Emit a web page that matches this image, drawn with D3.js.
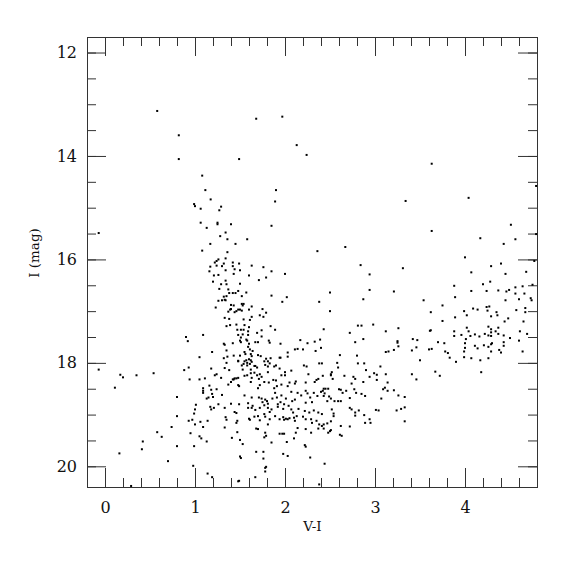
<!DOCTYPE html>
<html lang="en">
<head>
<meta charset="utf-8">
<script src="https://d3js.org/d3.v7.min.js"></script>
<style>
  body { margin: 0; background: #fff; }
  text { font-family: "DejaVu Serif", serif; fill: #111; }
</style>
</head>
<body>
<div id="chart"></div>
<script>

// [V-I, I] pairs, grouped by region of the diagram
var brightStars = [[0.58,13.13],[0.82,13.60],[0.82,14.06],[1.08,14.38],[1.49,14.06],[1.68,13.28],[1.97,13.24],
  [2.13,13.79],[2.24,13.98],[3.63,14.15],[4.79,14.58]];

var upperGiants = [[1.115,14.66],[1.174,14.84],[0.99,14.93],[1.00,14.97],[1.063,15.02],[1.29,14.98],[1.27,15.05],
  [1.063,15.29],[1.25,15.29],[1.25,15.32],[1.13,15.39],[1.40,15.32],[1.34,15.48],[1.28,15.55],[1.36,15.61],[1.45,15.70],
  [1.17,15.70],[1.08,15.83],[1.36,15.86],[-0.07,15.49],[1.26,16.00],[1.24,16.03],[1.34,15.98],[1.22,16.06],[1.17,16.14],
  [1.24,16.12],[1.30,16.13],[1.32,16.08],[1.42,16.06],[1.49,16.08],[1.42,16.13],[1.16,16.23],[1.34,16.21],[1.44,16.19],
  [1.43,16.28],[1.21,16.31],[1.26,16.30],[1.20,16.43],[1.34,16.41],[1.29,16.48],[1.35,16.48],[1.27,16.57],[1.37,16.58],
  [1.38,16.65],[1.42,16.65],[1.45,16.65],[1.48,16.61],[1.35,16.71],[1.32,16.72],[1.34,16.79],[1.26,16.80],[1.30,16.79],
  [1.33,16.78],[1.40,16.88],[1.43,16.89],[1.23,16.93],[1.39,16.97],[1.40,16.96],[1.37,17.01],[1.44,17.02],[1.46,17.00],
  [1.48,16.97],[1.33,17.13],[1.38,17.15],[1.35,17.29],[1.39,17.27],[1.46,17.26],[1.47,17.36],[1.48,17.46],[0.90,17.50],
  [0.92,17.58],[1.09,17.46],[1.32,17.63],[1.42,17.62]];

var giantField = [[1.90,14.66],[1.89,14.88],[1.85,15.35],[1.58,15.61],[2.36,15.84],[2.67,15.76],[1.63,16.12],[1.76,16.15],
  [1.85,16.23],[1.50,16.21],[1.60,16.31],[2.00,16.28],[1.71,16.40],[1.79,16.35],[2.84,16.11],[2.94,16.29],[1.50,16.47],
  [1.57,16.64],[2.50,16.64],[1.52,16.71],[2.94,16.59],[3.21,16.62],[1.85,16.70],[2.02,16.73],[1.97,16.82],[2.38,16.82],
  [2.87,16.77],[1.52,16.86],[1.54,16.86],[1.53,16.89],[1.63,16.91],[1.50,16.97],[1.52,16.99],[1.60,16.97],[1.75,16.96],
  [1.79,17.03],[1.72,17.08],[1.76,17.11],[2.50,17.00],[1.63,17.11],[1.61,17.17],[1.54,17.16],[1.84,17.29],[1.89,17.36],
  [2.43,17.35],[2.81,17.28],[2.85,17.28],[2.98,17.26],[3.12,17.39],[2.72,17.42],[2.87,17.54],[2.78,17.60],[2.39,17.55],
  [2.33,17.59],[2.17,17.56],[2.25,17.62],[1.95,17.63],[1.51,17.36],[1.55,17.27],[1.60,17.31],[1.54,17.36],[1.59,17.39],
  [1.69,17.42],[1.74,17.37],[1.53,17.45],[1.59,17.46],[1.74,17.49],[1.51,17.51],[1.57,17.55],[1.58,17.57],[1.50,17.57],
  [1.67,17.60],[1.70,17.60],[1.82,17.57],[1.83,17.61],[1.60,17.63],[1.51,17.60]];

var redGiants = [[3.34,14.87],[4.04,14.81],[3.63,15.45],[4.51,15.33],[4.17,15.59],[4.56,15.61],[4.43,15.70],[4.79,15.51],
  [4.00,15.96],[3.31,16.17],[4.29,16.13],[4.40,16.08],[4.77,16.03],[4.07,16.25],[4.45,16.28],[4.68,16.24],[4.28,16.43],
  [4.20,16.48],[3.88,16.51],[4.75,16.49],[4.64,16.52],[4.07,16.61],[4.24,16.61],[4.37,16.60],[4.46,16.62],[4.49,16.59],
  [4.56,16.54],[4.56,16.66],[4.66,16.66],[3.89,16.73],[3.54,16.79],[4.45,16.79],[4.60,16.77],[4.73,16.75],[4.74,16.79],
  [3.75,16.89],[4.09,16.95],[4.14,16.97],[3.99,17.00],[4.24,16.92],[4.27,16.91],[4.25,16.99],[3.62,17.02],[4.02,17.08],
  [4.29,17.10],[4.35,17.02],[4.36,17.08],[4.57,16.98],[4.67,16.94],[4.67,17.02],[3.75,17.19],[3.89,17.12],[4.44,17.20],
  [4.48,17.14],[4.65,17.20],[3.26,17.33],[3.61,17.38],[3.62,17.37],[3.88,17.39],[3.88,17.48],[4.02,17.32],[4.04,17.39],
  [3.96,17.46],[4.06,17.48],[4.11,17.45],[4.16,17.49],[4.01,17.54],[4.00,17.62],[4.22,17.44],[4.26,17.30],[4.29,17.35],
  [4.29,17.41],[4.26,17.47],[4.29,17.48],[4.34,17.39],[4.37,17.32],[4.37,17.44],[4.43,17.47],[4.50,17.52],[4.43,17.60],
  [4.30,17.62],[4.61,17.39],[4.69,17.44],[4.60,17.57],[3.25,17.58],[3.25,17.61],[3.42,17.54],[3.47,17.56],[3.70,17.60],
  [3.77,17.62]];

var redTail = [[3.26,17.68],[3.21,17.75],[3.46,17.70],[3.41,17.76],[3.50,17.95],[3.60,17.74],[3.63,17.73],[3.78,17.78],
  [3.81,17.81],[3.83,17.90],[3.90,17.98],[4.00,17.71],[3.99,17.78],[3.99,17.89],[4.07,17.91],[4.11,17.67],[4.14,17.72],
  [4.17,17.95],[4.21,17.66],[4.26,17.69],[4.26,17.91],[4.29,17.78],[4.29,17.64],[4.38,17.75],[4.40,17.80],[4.43,17.67],
  [4.64,17.78],[3.41,18.22],[3.46,18.32],[3.67,18.17],[3.72,18.25],[4.18,18.18],[3.21,18.53],[3.26,18.63],[3.33,18.66],
  [3.24,18.92],[3.29,18.89],[3.33,18.86],[3.33,19.13]];

var blueSide = [[1.33,17.65],[1.35,17.76],[1.19,17.79],[1.43,17.86],[1.05,17.89],[1.32,17.91],[1.36,17.88],[1.48,17.97],
  [1.35,18.00],[-0.07,18.13],[0.93,18.09],[0.88,18.14],[1.18,18.11],[1.33,18.10],[1.38,18.14],[0.17,18.23],[0.20,18.28],
  [0.35,18.24],[0.54,18.20],[0.94,18.32],[1.05,18.32],[1.11,18.30],[1.22,18.24],[1.24,18.22],[1.29,18.29],[1.42,18.32],
  [1.43,18.32],[1.44,18.30],[1.46,18.30],[1.40,18.37],[1.37,18.42],[1.49,18.45],[1.16,18.44],[0.11,18.48],[1.09,18.49],
  [1.09,18.54],[1.09,18.58],[1.18,18.52],[1.24,18.51],[1.19,18.60],[1.30,18.62],[1.15,18.67],[1.13,18.69],[1.20,18.66],
  [0.80,18.66],[1.01,18.81],[1.00,18.90],[0.99,18.98],[1.17,18.85],[1.18,18.90],[1.21,18.87],[1.26,18.80],[1.33,18.87],
  [1.40,18.79],[1.44,18.95],[1.46,18.97],[1.49,18.80],[1.34,19.05],[1.35,19.10],[0.80,19.03],[0.93,19.12],[0.97,19.10],
  [1.00,19.19],[1.06,19.14],[1.14,19.12],[1.09,19.24],[1.47,19.12],[1.46,19.16],[1.33,19.25],[0.74,19.24],[0.95,19.36],
  [0.58,19.34],[0.63,19.43],[0.42,19.52],[0.41,19.67],[1.05,19.42],[1.07,19.46],[1.13,19.52],[1.41,19.45],[0.80,19.61],
  [0.99,19.61],[0.16,19.75],[0.70,19.90],[0.98,19.99],[1.14,20.14],[1.19,20.21],[1.48,20.29],[0.29,20.38],[1.47,19.34]];

var turnoffUpper = [[1.59,17.69],[1.61,17.74],[1.55,17.79],[1.56,17.83],[1.62,17.83],[1.64,17.77],[1.63,17.87],[1.50,17.86],
  [1.70,17.85],[1.73,17.87],[1.79,17.92],[1.81,17.97],[1.84,17.91],[1.94,17.90],[1.95,17.90],[2.03,17.80],[2.03,17.88],
  [2.11,17.74],[2.14,17.73],[2.20,17.74],[2.34,17.77],[2.40,17.71],[2.61,17.85],[2.58,18.00],[2.80,17.86],[2.81,18.01],
  [2.88,18.01],[3.12,17.79],[3.15,17.78],[3.06,18.07],
  [1.57,17.95],[1.60,17.93],[1.62,17.95],[1.55,17.97],[1.58,18.00],[1.63,17.98],[1.61,18.02],[1.58,18.05],[1.54,18.02],
  [1.66,18.06],[1.67,18.06],[1.69,18.09],[1.77,17.97],[1.78,18.04],[1.81,18.07],[1.83,18.01],[1.88,18.07],[1.90,18.05],
  [1.94,18.11],[1.81,18.18],[1.52,18.05],[1.53,18.13],[1.48,17.96],[1.62,18.13],[1.62,18.20],[1.66,18.19],[1.69,18.24],
  [1.72,18.22],[2.07,18.15],[2.21,18.05],[2.24,18.07],[2.38,18.01],[2.41,18.01],[2.26,18.22],[2.59,18.09],[2.52,18.18],
  [2.51,18.22],[2.90,18.14],[2.66,18.25],[2.76,18.27],[2.78,18.31],[2.99,18.20],[3.02,18.23],[3.12,18.22],
  [1.48,18.29],[1.55,18.25],[1.58,18.24],[1.63,18.29],[1.62,18.37],[1.71,18.31],[1.74,18.27],[1.77,18.37],[1.82,18.38],
  [1.87,18.33],[1.90,18.34],[1.96,18.42],[2.00,18.18],[2.00,18.24],[1.96,18.24],[2.05,18.38],[2.11,18.40],[2.12,18.36],
  [2.03,18.45],[1.91,18.45],[1.88,18.49],[1.72,18.43],[1.70,18.49],[1.48,18.43],[2.23,18.38],[2.35,18.33],[2.37,18.31],
  [2.33,18.37],[2.53,18.31],[2.51,18.24],[2.42,18.25],[2.42,18.54],[2.74,18.40],[2.87,18.37],[2.94,18.27],[3.14,18.38],
  [3.11,18.48],[3.09,18.51],[3.02,18.33],[3.14,18.54]];

var turnoffLower = [[1.55,18.63],[1.63,18.67],[1.71,18.67],[1.74,18.69],[1.78,18.71],[1.80,18.74],[1.81,18.79],[1.86,18.69],
  [1.89,18.58],[1.91,18.67],[1.96,18.63],[2.01,18.69],[2.07,18.56],[2.08,18.74],[2.11,18.71],[2.14,18.58],[2.18,18.63],
  [2.23,18.54],[2.25,18.59],[2.28,18.67],[2.32,18.58],[2.36,18.64],[2.40,18.56],[2.43,18.50],[2.45,18.50],[2.48,18.50],
  [2.44,18.59],[2.43,18.64],[2.49,18.65],[2.47,18.74],[2.51,18.69],[2.55,18.74],[2.60,18.51],[2.62,18.52],[2.59,18.74],
  [2.62,18.74],[2.64,18.58],[2.68,18.54],[2.72,18.68],[2.77,18.51],[2.79,18.58],[2.85,18.60],[2.89,18.64],[3.07,18.69],
  [2.30,18.76],[2.23,18.77],[1.99,18.80],[1.92,18.80],[1.95,18.76],[1.75,18.76],[1.59,18.78],[1.59,18.87],[1.64,18.83],
  [1.63,18.87],[1.67,18.91],[1.72,18.87],[1.77,18.82],[1.81,18.87],[1.85,18.90],[1.92,18.85],[1.98,18.89],[2.04,18.83],
  [2.07,18.90],[2.09,18.96],[2.13,19.03],[2.15,18.89],[2.22,18.93],[2.27,18.96],[2.32,18.92],[2.37,18.96],[2.41,18.99],
  [2.52,18.90],[2.54,18.98],[2.54,19.03],[2.51,19.13],[2.72,18.87],[2.74,18.90],[2.78,18.96],[2.78,19.02],[2.82,18.92],
  [2.88,19.01],[2.94,19.09],[2.95,19.16],[3.01,18.91],[3.04,18.92],[2.89,19.16],[1.60,19.08],[1.61,19.10],[1.66,19.04],
  [1.70,19.03],[1.72,19.11],[1.77,18.99],[1.78,19.04],[1.83,18.95],[1.83,19.09],[1.89,19.03],[1.94,19.09],[1.98,19.05],
  [1.99,19.10],[2.01,19.08],[2.03,19.09],[2.05,19.07],[2.11,19.12],[2.10,19.06],[2.20,19.04],[2.23,19.09],[2.29,19.09],
  [2.30,19.16],[2.35,19.12],[2.38,19.19],[2.41,19.22],[2.43,19.19],[2.47,19.17],[2.50,19.32],[2.51,19.30],[2.62,19.22],
  [2.72,19.23],[2.61,19.39],[2.63,19.41],
  [1.50,19.49],[1.53,19.57],[1.68,19.27],[1.70,19.28],[1.78,19.35],[1.79,19.41],[1.77,19.44],[1.94,19.37],[1.97,19.37],
  [1.99,19.37],[2.10,19.46],[2.12,19.35],[2.14,19.26],[2.23,19.28],[2.29,19.35],[2.37,19.27],[2.43,19.27],[2.48,19.35],
  [1.81,19.19],[1.85,19.54],[2.02,19.53],[2.22,19.59],[2.23,19.62],[2.28,19.83],[1.98,19.76],[2.03,19.80],[1.68,19.72],
  [1.76,19.72],[1.76,19.85],[1.50,19.81],[1.51,19.84],[1.78,20.03],[1.78,20.10],[1.79,20.01],[2.44,19.95],[1.67,20.21],
  [1.49,20.28],[2.38,20.35]];

var xTicks = [0, 1, 2, 3, 4];
var yTicks = [12, 14, 16, 18, 20];

var stars = brightStars.concat(upperGiants, giantField, redGiants, redTail, blueSide, turnoffUpper, turnoffLower);

var margin = {top: 37, right: 38, bottom: 88, left: 87},
    width = 450,
    height = 450;

var svg = d3.select("#chart").append("svg")
    .attr("width", width + margin.left + margin.right)
    .attr("height", height + margin.top + margin.bottom);

var g = svg.append("g")
    .attr("transform", "translate(" + margin.left + "," + margin.top + ")");

var x = d3.scaleLinear().domain([-0.2, 4.8]).range([0, width]);
var y = d3.scaleLinear().domain([11.7, 20.4]).range([0, height]);

var xMinor = d3.range(-0.2, 4.81, 0.2).map(function(v){ return +v.toFixed(1); });
var yMinor = d3.range(12, 20.01, 0.5);

function addAxis(axis, tx, ty) {
  var a = g.append("g")
      .attr("transform", "translate(" + tx + "," + ty + ")")
      .style("color", "#333")
      .call(axis);
  a.select(".domain").remove();
  return a;
}

// minor ticks, all four sides, pointing inward
addAxis(d3.axisBottom(x).tickValues(xMinor).tickSize(-9).tickFormat(""), 0, height);
addAxis(d3.axisTop(x).tickValues(xMinor).tickSize(-9).tickFormat(""), 0, 0);
addAxis(d3.axisLeft(y).tickValues(yMinor).tickSize(-9).tickFormat(""), 0, 0);
addAxis(d3.axisRight(y).tickValues(yMinor).tickSize(-9).tickFormat(""), width, 0);

// major ticks
addAxis(d3.axisBottom(x).tickValues(xTicks).tickSize(-19).tickPadding(15).tickFormat(d3.format("d")), 0, height)
  .selectAll("text").style("font-size", "16px").style("fill", "#111");
addAxis(d3.axisTop(x).tickValues(xTicks).tickSize(-19).tickFormat(""), 0, 0);
addAxis(d3.axisLeft(y).tickValues(yTicks).tickSize(-19).tickPadding(10).tickFormat(d3.format("d")), 0, 0)
  .selectAll("text").style("font-size", "16px").style("fill", "#111");
addAxis(d3.axisRight(y).tickValues(yTicks).tickSize(-19).tickFormat(""), width, 0);

// frame
g.append("rect")
  .attr("x", 0.5).attr("y", 0.5)
  .attr("width", width).attr("height", height)
  .attr("fill", "none")
  .attr("stroke", "#333")
  .attr("stroke-width", 1);

// stars
g.append("g").selectAll("rect")
  .data(stars)
  .enter()
  .append("rect")
    .attr("x", function(d){ return x(d[0]) - 1; })
    .attr("y", function(d){ return y(d[1]) - 1; })
    .attr("width", 2)
    .attr("height", 2)
    .attr("fill", "#000");

// axis titles
g.append("text")
  .attr("x", width / 2 + 0.5)
  .attr("y", 494)
  .attr("text-anchor", "middle")
  .style("font-size", "13.5px")
  .text("V-I");

g.append("text")
  .attr("transform", "translate(-48," + 216 + ") rotate(-90)")
  .attr("text-anchor", "middle")
  .style("font-size", "13.5px")
  .text("I (mag)");

</script>
</body>
</html>
